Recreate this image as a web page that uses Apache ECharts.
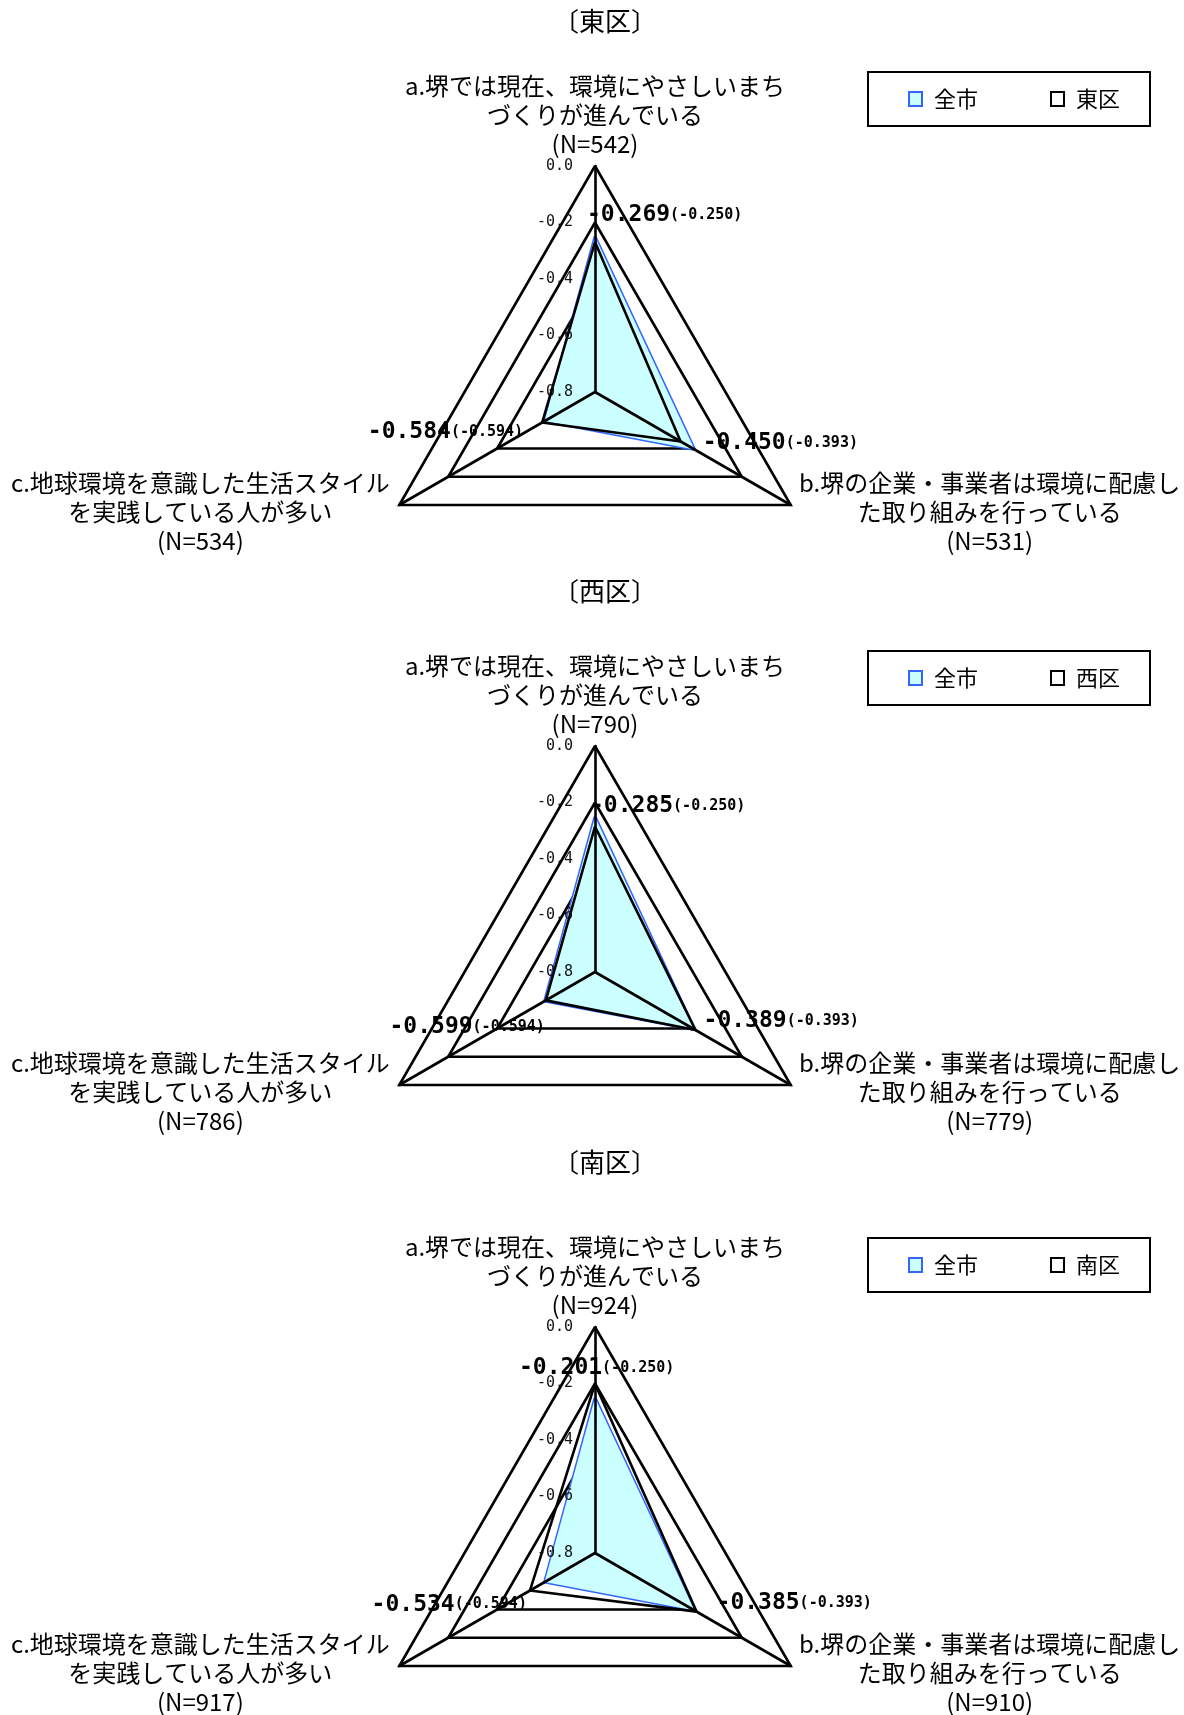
<!DOCTYPE html>
<html>
<head>
<meta charset="utf-8">
<title>環境に関する意識（区別）</title>
<script src="https://cdn.jsdelivr.net/npm/echarts@6/dist/echarts.min.js"></script>
<style>
  html, body { margin: 0; padding: 0; background: #fff; }
  #chart { width: 1184px; height: 1715px; }
</style>
</head>
<body>
<div id="chart"></div>
<script>
// 設問 a, b, c
const itemLines = [
  ['a.堺では現在、環境にやさしいまち', 'づくりが進んでいる'],
  ['b.堺の企業・事業者は環境に配慮し', 'た取り組みを行っている'],
  ['c.地球環境を意識した生活スタイル', 'を実践している人が多い']
];
const districts = ['東区', '西区', '南区'];
const cityName = '全市';
// 平均値 (a, b, c)
const cityValues = [-0.250, -0.393, -0.594];
const eastValues = [-0.269, -0.450, -0.584];
const westValues = [-0.285, -0.389, -0.599];
const southValues = [-0.201, -0.385, -0.534];
// 回答者数 (a, b, c)
const eastN = [542, 531, 534];
const westN = [790, 779, 786];
const southN = [924, 910, 917];
// 目盛
const axisMin = -0.8;
const axisMax = 0;
const axisSplit = 4;

const districtValues = [eastValues, westValues, southValues];
const districtN = [eastN, westN, southN];

// layout
const centerX = 595;
const centerY = [392, 972, 1553];
const radius = 226;
const titleTop = [3, 573, 1144];
const legendTop = [72, 651, 1238];
// 数値ラベルの位置（頂点からのずれ）a, b, c
const labelOffset = [
  [[-8, -27], [22, 2], [-19, 10]],
  [[-5, -20], [8, -9], [-1, 27]],
  [[-76, -16], [20, -9], [-3, 14]]
];
// echarts radar goes counter-clockwise: top, lower-left, lower-right
const order = [0, 2, 1];

const jp = "'Noto Sans CJK JP', sans-serif";
const mono = "'DejaVu Sans Mono', monospace";

let radar = [], series = [], title = [], legend = [];

districts.forEach(function (name, k) {
  const vals = districtValues[k];
  const ns = districtN[k];
  const center = [centerX, centerY[k]];
  const base = radar.length;
  const ordered = order.map(function (i) { return vals[i]; });

  // rings + axis names
  radar.push({
    indicator: order.map(function (i) {
      const lines = itemLines[i].concat('(N=' + ns[i] + ')');
      return {
        name: lines.map(function (s) {
          return '{' + (i > 0 ? 'f' : 'w') + '|' + s + '}';
        }).join('\n'),
        min: axisMin, max: axisMax
      };
    }),
    center: center, radius: radius, startAngle: 90, splitNumber: axisSplit, shape: 'polygon', z: 0,
    axisNameGap: 8,
    axisName: {
      color: '#000',
      rich: {
        w: { width: 384, align: 'center', fontSize: 24, lineHeight: 29, fontFamily: jp, color: '#000' },
        f: { width: 384, align: 'center', fontSize: 24, lineHeight: 29, fontFamily: jp, color: '#000', padding: [5, 0, 0, 0] }
      }
    },
    axisLine: { show: false },
    axisTick: { show: false },
    axisLabel: { show: false },
    splitLine: { lineStyle: { color: '#000', width: 2.6 } },
    splitArea: { show: false }
  });
  // spokes over the fill
  radar.push({
    indicator: order.map(function () { return { name: '', min: axisMin, max: axisMax }; }),
    center: center, radius: radius, startAngle: 90, splitNumber: axisSplit, shape: 'polygon', z: 3,
    axisName: { show: false },
    axisLine: { lineStyle: { color: '#000', width: 2.6 } },
    axisTick: { show: false },
    axisLabel: { show: false },
    splitLine: { show: false },
    splitArea: { show: false }
  });
  // tick labels on the top axis only
  radar.push({
    indicator: [{ name: '', min: axisMin, max: axisMax }],
    center: center, radius: radius, startAngle: 90, splitNumber: axisSplit, z: 3,
    axisName: { show: false },
    axisLine: { show: false },
    axisTick: { show: false },
    splitLine: { show: false },
    splitArea: { show: false },
    axisLabel: {
      show: true, margin: 22, color: '#111', fontSize: 15, fontFamily: mono,
      formatter: function (v) { return Number(v).toFixed(1); }
    }
  });

  series.push({
    type: 'radar', radarIndex: base, name: cityName, symbol: 'none', z: 2, silent: true,
    lineStyle: { color: '#3366ff', width: 3 },
    areaStyle: { color: '#ccffff', opacity: 1 },
    itemStyle: { color: '#3366ff' },
    data: [{ value: order.map(function (i) { return cityValues[i]; }), name: cityName }]
  });
  series.push({
    type: 'radar', radarIndex: base, name: name, symbol: 'none', z: 2, silent: true,
    lineStyle: { color: '#000', width: 2.6 },
    itemStyle: { color: '#000' },
    data: [{ value: ordered, name: name }]
  });

  // one label carrier per vertex, so each value label can sit on its own side
  [0, 1, 2].forEach(function (i) {
    const dim = order.indexOf(i);
    series.push({
      type: 'radar', radarIndex: base, name: name + '-' + 'abc'[i], z: 2, silent: true,
      symbol: 'circle', symbolSize: 1,
      itemStyle: { color: 'rgba(0,0,0,0)' },
      lineStyle: { width: 0, opacity: 0 },
      label: {
        show: true, position: 'inside', align: i === 2 ? 'right' : 'left', verticalAlign: 'middle',
        offset: labelOffset[k][i], textBorderWidth: 0,
        formatter: function (p) {
          const d = p.dimensionIndex != null ? p.dimensionIndex : ordered.indexOf(p.value);
          if (d !== dim) return '';
          return '{v|' + vals[i].toFixed(3) + '}{p|(' + cityValues[i].toFixed(3) + ')}';
        },
        rich: {
          v: { fontFamily: mono, fontWeight: 'bold', fontSize: 23, color: '#000', textBorderWidth: 0 },
          p: { fontFamily: mono, fontWeight: 'bold', fontSize: 15, color: '#000', textBorderWidth: 0 }
        }
      },
      data: [{ value: ordered }]
    });
  });

  title.push({
    text: '〔' + name + '〕', left: 600, top: titleTop[k], textAlign: 'center',
    textStyle: { fontFamily: jp, fontSize: 26, fontWeight: 'normal', color: '#000' }
  });

  legend.push({
    data: [
      { name: cityName, icon: 'rect', itemStyle: { color: '#ccffff', borderColor: '#3366ff', borderWidth: 2 } },
      { name: name, icon: 'rect', itemStyle: { color: '#fff', borderColor: '#000', borderWidth: 2 } }
    ],
    left: 868, top: legendTop[k], orient: 'horizontal',
    itemWidth: 13, itemHeight: 14, itemGap: 72,
    padding: [16, 30, 16, 40],
    borderColor: '#000', borderWidth: 2,
    selectedMode: false,
    textStyle: { fontFamily: jp, fontSize: 22, color: '#000', padding: [0, 0, 0, 7] }
  });
});

const myChart = echarts.init(document.getElementById('chart'));
myChart.setOption({
  backgroundColor: '#fff',
  animation: false,
  title: title,
  legend: legend,
  radar: radar,
  series: series
});
</script>
</body>
</html>
